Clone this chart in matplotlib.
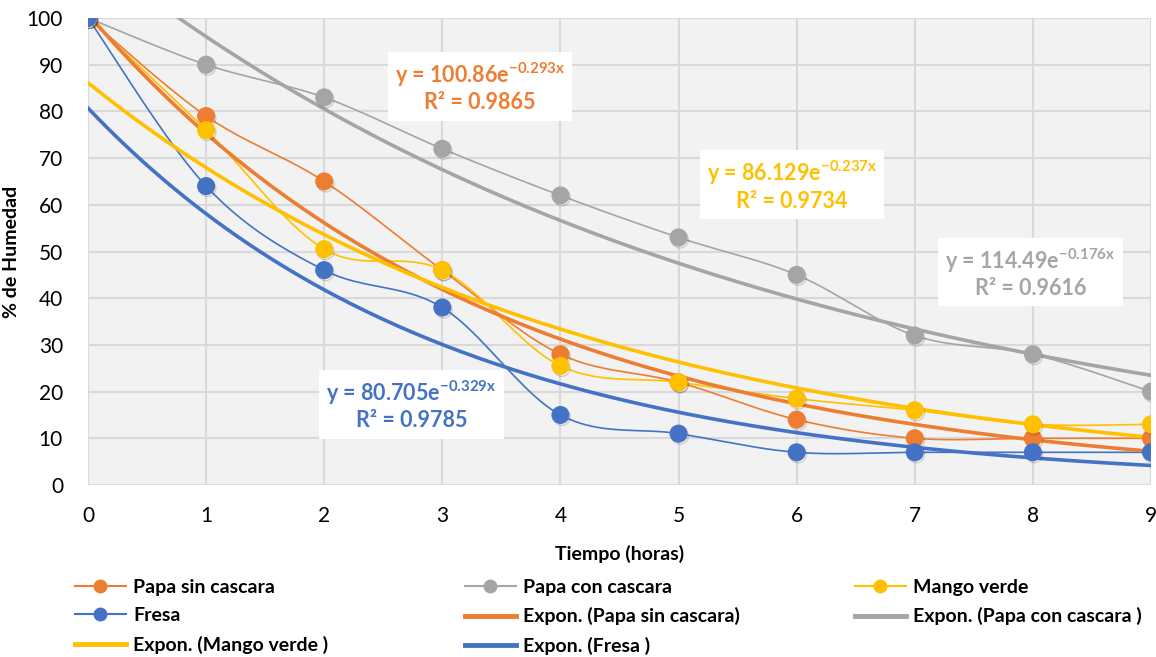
import numpy as np
import matplotlib
matplotlib.use('Agg')
import matplotlib.pyplot as plt
import matplotlib.patheffects as pe
from matplotlib.lines import Line2D

plt.rcParams['font.family'] = ['Lato', 'DejaVu Sans']
plt.rcParams['mathtext.fontset'] = 'custom'
plt.rcParams['mathtext.rm'] = 'Lato'
plt.rcParams['mathtext.bf'] = 'Lato:bold'

# Data
horas = [0, 1, 2, 3, 4, 5, 6, 7, 8, 9]
papa_sin = [100, 79, 65, 46, 28, 22, 14, 10, 10, 10]
papa_con = [100, 90, 83, 72, 62, 53, 45, 32, 28, 20]
mango = [100, 76, 50.5, 46, 25.5, 22, 18.5, 16, 13, 13]
fresa = [100, 64, 46, 38, 15, 11, 7, 7, 7, 7]

# Exponential fits as printed on the chart (a, b, R2)
fit_papa_sin = (100.86, -0.293, 0.9865)
fit_papa_con = (114.49, -0.176, 0.9616)
fit_mango = (86.129, -0.237, 0.9734)
fit_fresa = (80.705, -0.329, 0.9785)

c_orange = '#ED7D31'
c_gray = '#A5A5A5'
c_yellow = '#FFC000'
c_blue = '#4472C4'


def smooth(x, y, n=24):
    # Excel-like smoothed line (Catmull-Rom as cubic Bezier)
    x = np.asarray(x, float)
    y = np.asarray(y, float)
    px = np.concatenate([[x[0]], x, [x[-1]]])
    py = np.concatenate([[y[0]], y, [y[-1]]])
    xs, ys = [], []
    t = np.linspace(0, 1, n)
    for i in range(1, len(px) - 2):
        p0 = np.array([px[i], py[i]])
        p3 = np.array([px[i + 1], py[i + 1]])
        c1 = p0 + (np.array([px[i + 1], py[i + 1]]) - np.array([px[i - 1], py[i - 1]])) / 6
        c2 = p3 - (np.array([px[i + 2], py[i + 2]]) - np.array([px[i], py[i]])) / 6
        pts = ((1 - t) ** 3)[:, None] * p0 + (3 * (1 - t) ** 2 * t)[:, None] * c1 \
            + (3 * (1 - t) * t ** 2)[:, None] * c2 + (t ** 3)[:, None] * p3
        xs.extend(pts[:, 0])
        ys.extend(pts[:, 1])
    return xs, ys


fig = plt.figure(figsize=(11.56, 6.57), dpi=100)
ax = fig.add_axes([88 / 1156, 1 - 485 / 657, (1151 - 88) / 1156, (485 - 18) / 657])
ax.set_facecolor('#F2F2F2')

series = [
    ('Papa sin cascara', papa_sin, fit_papa_sin, c_orange),
    ('Papa con cascara', papa_con, fit_papa_con, c_gray),
    ('Mango verde', mango, fit_mango, c_yellow),
    ('Fresa', fresa, fit_fresa, c_blue),
]

shadow = [pe.SimpleLineShadow(offset=(1, -1.5), alpha=0.15, shadow_color='black'), pe.Normal()]
xfit = np.linspace(0, 9, 200)
data_handles, trend_handles = [], []
for name, vals, (a, b, r2), col in series:
    sx, sy = smooth(horas, vals)
    ax.plot(sx, sy, color=col, lw=1.2, zorder=3)
    ax.plot(horas, vals, 'o', color=col, ms=12, zorder=4, path_effects=shadow)
    ax.plot(xfit, a * np.exp(b * xfit), color=col, lw=2.6, zorder=3.5)
    data_handles.append(Line2D([], [], color=col, lw=1.5, marker='o', ms=9))
    trend_handles.append(Line2D([], [], color=col, lw=3.5))

ax.set_xlim(0, 9)
ax.set_ylim(0, 100)
ax.set_xticks(horas)
ax.set_yticks(range(0, 101, 10))
ax.grid(True, color='#D9D9D9', lw=1.5)
ax.set_axisbelow(True)
for s in ax.spines.values():
    s.set_visible(False)
ax.tick_params(length=0, labelsize=15, pad=15)
ax.tick_params(axis='y', pad=18)
ax.set_xlabel('Tiempo (horas)', fontsize=14, fontweight='bold', labelpad=14)
ax.set_ylabel('% de Humedad', fontsize=14, fontweight='bold', labelpad=5)

# Equation boxes
boxes = [
    (fit_papa_sin, c_orange, 3.32, 85.2),
    (fit_mango, c_yellow, 5.96, 64.2),
    (fit_papa_con, c_gray, 7.98, 45.4),
    (fit_fresa, c_blue, 2.74, 17.1),
]
for (a, b, r2), col, bx, by in boxes:
    txt = 'y = %se$^{\\mathbf{%s}}$\nR² = %.4f' % (('%g' % a), '%.3fx' % b, r2)
    ax.text(bx, by, txt, color=col, fontsize=15.5, fontweight='bold', ha='center', va='center',
            multialignment='center', linespacing=1.2, zorder=6,
            bbox=dict(boxstyle='square,pad=0.33', fc='white', ec='none'))

# Legend in three columns
cols = [
    ([data_handles[0], data_handles[3], trend_handles[2]],
     ['Papa sin cascara', 'Fresa', 'Expon. (Mango verde )'], 75),
    ([data_handles[1], trend_handles[0], trend_handles[3]],
     ['Papa con cascara', 'Expon. (Papa sin cascara)', 'Expon. (Fresa )'], 465),
    ([data_handles[2], trend_handles[1]],
     ['Mango verde', 'Expon. (Papa con cascara )'], 855),
]
for h, l, xpx in cols:
    fig.legend(h, l, loc='upper left', bbox_to_anchor=(xpx / 1156, 1 - 579 / 657),
               frameon=False, handlelength=2.6, handletextpad=0.4,
               labelspacing=0.58, borderpad=0, borderaxespad=0,
               prop={'weight': 'bold', 'size': 14})

fig.savefig('out.png', dpi=100)
